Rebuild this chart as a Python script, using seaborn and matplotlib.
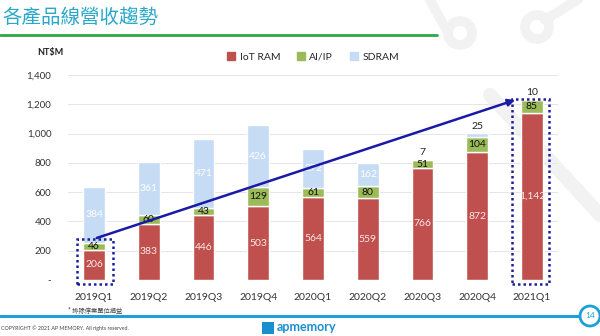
import matplotlib
matplotlib.use("Agg")
import matplotlib.pyplot as plt
import seaborn as sns
import pandas as pd
import numpy as np
from matplotlib.patches import Rectangle, Ellipse, Patch
from matplotlib.lines import Line2D

categories = ["2019Q1", "2019Q2", "2019Q3", "2019Q4", "2020Q1", "2020Q2", "2020Q3", "2020Q4", "2021Q1"]
iot_ram = [206, 383, 446, 503, 564, 559, 766, 872, 1142]
ai_ip = [46, 60, 43, 129, 61, 80, 51, 104, 85]
sdram = [384, 361, 471, 426, 272, 162, 7, 25, 10]
y_ticks = [0, 200, 400, 600, 800, 1000, 1200, 1400]
y_tick_labels = ["-", "200", "400", "600", "800", "1,000", "1,200", "1,400"]

C_IOT = "#c0504d"
C_AI = "#9bbb59"
C_SD = "#c6dcf5"

sns.set_theme(style="white")
plt.rcParams["font.family"] = ["Lato", "Noto Sans CJK TC", "DejaVu Sans"]

W, H = 600, 336
fig = plt.figure(figsize=(6, 3.36), dpi=100)


def fx(x):
    return x / W


def fy(y):
    return 1 - y / H


# decorative faint background shapes
grey = "#f2f2f2"
for (cx, cy, r) in [(460, 33, 12), (537, 27, 12)]:
    fig.patches.append(Ellipse((fx(cx), fy(cy)), 2 * r / W, 2 * r / H, transform=fig.transFigure,
                               fill=False, ec=grey, lw=7, zorder=0))
fig.add_artist(Line2D([fx(448), fx(430)], [fy(33), fy(0)], color=grey, lw=7, zorder=0))
fig.add_artist(Line2D([fx(545), fx(585)], [fy(20), fy(-5)], color=grey, lw=7, zorder=0))
fig.add_artist(Line2D([fx(490), fx(600)], [fy(95), fy(215)], color=grey, lw=10, zorder=0))

# title and header line
fig.text(fx(2), fy(17), "各產品線營收趨勢", fontsize=14, color="#2aa8c8",
         family=["Noto Sans CJK TC", "DejaVu Sans"], va="center", ha="left")
fig.add_artist(Line2D([0, fx(437)], [fy(35), fy(35)], color="#2ea845", lw=2))

ax = fig.add_axes([68 / W, 1 - 280 / H, (558 - 68) / W, (280 - 75) / H])
ax.set_facecolor("none")

df = pd.DataFrame({"cat": categories, "iot": iot_ram, "ai": ai_ip, "sd": sdram})
b1 = np.array(iot_ram)
b2 = b1 + np.array(ai_ip)

sns.barplot(data=df, x="cat", y="iot", color=C_IOT, width=0.4, ax=ax, saturation=1, zorder=2)
sns.barplot(data=df, x="cat", y="ai", color=C_AI, width=0.4, ax=ax, saturation=1, bottom=b1, zorder=2)
sns.barplot(data=df, x="cat", y="sd", color=C_SD, width=0.4, ax=ax, saturation=1, bottom=b2, zorder=2)

ax.set_xlim(-0.475, 8.475)
ax.set_ylim(0, 1400)
ax.set_yticks(y_ticks)
ax.set_yticklabels(y_tick_labels)
ax.set_xlabel("")
ax.set_ylabel("")
ax.yaxis.grid(True, color="#e6e6e6", lw=0.7, zorder=0)
ax.set_axisbelow(True)
for s in ax.spines.values():
    s.set_visible(False)
ax.tick_params(axis="y", length=0, pad=12, labelsize=7, labelcolor="#333333")
ax.tick_params(axis="x", length=0, pad=9, labelsize=7.5, labelcolor="#333333")

# segment labels
fs = 7.5
for i in range(len(categories)):
    ax.text(i, iot_ram[i] / 2, f"{iot_ram[i]:,}", ha="center", va="center", fontsize=fs, color="#fbe9e9", zorder=4)
    ax.text(i, b1[i] + ai_ip[i] / 2, f"{ai_ip[i]}", ha="center", va="center", fontsize=fs, color="#111111", zorder=4)
    if sdram[i] > 50:
        ax.text(i, b2[i] + sdram[i] / 2, f"{sdram[i]}", ha="center", va="center", fontsize=fs, color="white", zorder=4)
    else:
        ax.text(i, b2[i] + sdram[i] + 15, f"{sdram[i]}", ha="center", va="bottom", fontsize=fs, color="#222222", zorder=4)

# dotted highlight boxes
box_c = "#1f1f99"
ax.add_patch(Rectangle((-0.31, -27), 0.66, 307, fill=False, ls=(0, (1, 1.2)), lw=1.8, ec=box_c, clip_on=False, zorder=5))
ax.add_patch(Rectangle((7.635, -27), 0.675, 1263, fill=False, ls=(0, (1, 1.2)), lw=1.8, ec=box_c, clip_on=False, zorder=5))

# trend arrow
ax.annotate("", xy=(7.69, 1229), xytext=(0.05, 287),
            arrowprops=dict(arrowstyle="-|>", color="#1a1aa6", lw=1.8, mutation_scale=10, shrinkA=0, shrinkB=0),
            zorder=6, annotation_clip=False)

# unit label
fig.text(fx(50), fy(52), "NT$M", fontsize=6.5, fontweight="bold", ha="center", va="center", color="#222222")

# legend
handles = [Patch(color=C_IOT, label="IoT RAM"), Patch(color=C_AI, label="AI/IP"), Patch(color=C_SD, label="SDRAM")]
fig.legend(handles=handles, loc="center", bbox_to_anchor=(fx(313), fy(57)), ncol=3, frameon=False,
           fontsize=7.5, handlelength=0.8, handleheight=0.8, handletextpad=0.4, columnspacing=1.6)

# footer
fig.text(fx(68), fy(311), "* 排除停業單位損益", fontsize=4.5, color="#444444",
         family=["Noto Sans CJK TC", "DejaVu Sans"], va="center", ha="left")
fig.add_artist(Line2D([0, fx(580)], [fy(316), fy(316)], color="#1ba1d8", lw=2.2))
fig.patches.append(Ellipse((fx(590), fy(316)), 20 / W, 20 / H, transform=fig.transFigure,
                           fc="white", ec="#1ba1d8", lw=2, zorder=3))
fig.text(fx(590), fy(316), "14", fontsize=6, color="#1ba1d8", ha="center", va="center", zorder=4)
fig.text(fx(1), fy(328), "COPYRIGHT © 2021 AP MEMORY. All rights reserved.", fontsize=3.8, color="#444444",
         va="center", ha="left")
fig.patches.append(Rectangle((fx(262), fy(334)), 12 / W, 12 / H, transform=fig.transFigure,
                             fc="#1a8fd0", ec="none"))
fig.text(fx(277), fy(327), "apmemory", fontsize=9, color="#1a8fd0", fontweight="bold",
         va="center", ha="left")

fig.savefig("out.png", dpi=100)
